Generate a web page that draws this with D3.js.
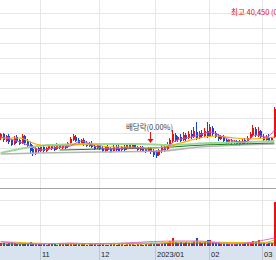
<!DOCTYPE html>
<html>
<head>
<meta charset="utf-8">
<script src="https://cdn.jsdelivr.net/npm/d3@7"></script>
<style>
html,body{margin:0;padding:0;background:#fff;overflow:hidden}
svg{display:block}
</style>
</head>
<body>
<svg id="chart" width="276" height="260"></svg>
<script>
// ===== DATA =====
const dates = [
"2022-10-11","2022-10-12","2022-10-13","2022-10-14","2022-10-17","2022-10-18","2022-10-19","2022-10-20","2022-10-21","2022-10-24","2022-10-25","2022-10-26","2022-10-27","2022-10-28","2022-10-31",
"2022-11-01","2022-11-02","2022-11-03","2022-11-04","2022-11-07","2022-11-08","2022-11-09","2022-11-10","2022-11-11","2022-11-14","2022-11-15","2022-11-16","2022-11-17","2022-11-18","2022-11-21","2022-11-22","2022-11-23","2022-11-24","2022-11-25","2022-11-28","2022-11-29","2022-11-30",
"2022-12-01","2022-12-02","2022-12-05","2022-12-06","2022-12-07","2022-12-08","2022-12-09","2022-12-12","2022-12-13","2022-12-14","2022-12-15","2022-12-16","2022-12-19","2022-12-20","2022-12-21","2022-12-22","2022-12-23","2022-12-26","2022-12-27","2022-12-28","2022-12-29",
"2023-01-02","2023-01-03","2023-01-04","2023-01-05","2023-01-06","2023-01-09","2023-01-10","2023-01-11","2023-01-12","2023-01-13","2023-01-16","2023-01-17","2023-01-18","2023-01-19","2023-01-20","2023-01-25","2023-01-26","2023-01-27","2023-01-30","2023-01-31",
"2023-02-01","2023-02-02","2023-02-03","2023-02-06","2023-02-07","2023-02-08","2023-02-09","2023-02-10","2023-02-13","2023-02-14","2023-02-15","2023-02-16","2023-02-17","2023-02-20","2023-02-21","2023-02-22","2023-02-23","2023-02-24","2023-02-27","2023-02-28",
"2023-03-02","2023-03-03","2023-03-06","2023-03-07","2023-03-08"
]

const openP = [
39200,39360,39080,39280,39120,38960,39240,39120,39000,39280,39080,38960,38760,38600,38800,
38680,38840,38680,38760,38920,38840,38760,38920,38800,38920,38840,39000,39120,39240,39120,38960,39120,39000,38880,39000,38880,38800,
38920,38800,38680,38840,38760,38680,38840,38800,38720,38840,38760,38920,38800,38920,38840,38720,38840,38760,38680,38800,38680,
38640,38520,38680,38840,38760,38920,39080,39320,39120,39240,39120,39320,39200,39360,39240,39440,39200,39400,39280,39480,
39280,39600,39400,39280,39160,39240,39120,39000,39120,39000,39080,39040,38960,39120,39000,39200,39320,39560,39280,39480,
39240,39120,39240,39080,39240
]
const highP = [
39400,39400,39320,39360,39160,39280,39320,39160,39360,39320,39160,39040,38920,38880,38840,
38880,38880,38840,38960,38960,38920,39000,38960,38960,38960,39040,39240,39360,39320,39200,39160,39200,39080,39040,39080,38960,38960,
39000,38880,38880,38920,38840,38920,39000,38960,38880,38920,38960,38960,38960,38960,38880,38880,38880,38800,38840,38840,38760,
38720,38760,38920,38920,39040,39200,39520,39400,39280,39360,39440,39400,39480,39520,39640,39840,39480,39520,39600,39840,
39760,39680,39480,39360,39320,39320,39200,39160,39160,39120,39120,39120,39160,39200,39280,39440,39720,39640,39640,39520,
39360,39320,39360,39240,40450
]
const lowP = [
39120,39040,39040,38960,38880,38920,39000,38920,38960,38920,38800,38600,38480,38520,38600,
38640,38600,38640,38720,38720,38680,38720,38760,38760,38760,38800,38960,39080,39040,38920,38920,38880,38840,38840,38800,38720,38760,
38720,38640,38640,38680,38600,38640,38640,38640,38680,38680,38720,38760,38760,38760,38680,38680,38640,38600,38640,38560,38440,
38400,38480,38600,38640,38720,38880,39000,39040,39040,39040,39080,39080,39160,39160,39200,39120,39160,39200,39240,39200,
39240,39280,39200,39080,39120,39040,38960,38960,38920,38960,38920,38880,38920,38960,38960,39160,39240,39240,39240,39160,
39080,39080,39040,39040,39200
]
const closeP = [
39360,39120,39280,39040,38920,39200,39080,38960,39280,39000,38880,38680,38600,38800,38680,
38840,38680,38800,38920,38760,38720,38920,38800,38920,38800,39000,39160,39280,39080,38960,39120,38920,38880,39000,38840,38760,38920,
38760,38680,38840,38720,38640,38840,38720,38680,38840,38720,38920,38800,38920,38800,38720,38840,38680,38640,38800,38640,38520,
38480,38720,38840,38720,38960,39120,39360,39120,39240,39080,39320,39160,39360,39240,39480,39200,39400,39280,39480,39240,
39640,39360,39240,39160,39280,39080,39000,39120,39000,39080,38960,38920,39080,39000,39200,39360,39600,39320,39480,39240,
39120,39240,39080,39200,40360
]
// thousand shares
const volume = [
300,280,260,290,310,270,250,260,300,280,270,320,300,260,240,
230,250,220,240,260,230,220,250,230,240,260,300,280,260,240,250,230,220,240,250,230,220,
230,240,220,210,250,230,220,240,230,220,240,230,250,220,230,240,220,250,260,300,270,
280,260,300,280,320,360,480,340,300,320,290,310,300,280,350,500,320,300,340,400,
420,330,300,280,260,250,240,260,250,230,240,250,260,280,300,340,380,320,400,300,
280,260,270,300,1920
]

// moving averages: [day index, value]
const ma5 = [[0,39240],[5,39120],[11,38880],[15,38720],[20,38800],[26,38880],[30,39080],[35,38880],[41,38760],[46,38800],[52,38800],[58,38640],[61,38760],[65,39080],[71,39240],[74,39320],[78,39440],[82,39280],[87,39080],[91,39040],[95,39320],[99,39240],[102,39520]]
const ma20 = [[0,39200],[7,39200],[13,38960],[18,38880],[26,38920],[33,38960],[41,38840],[48,38840],[56,38800],[61,38840],[67,39000],[74,39200],[80,39280],[87,39200],[93,39160],[99,39200],[102,39240]]
const ma60 = [[0,38600],[9,38800],[18,38920],[37,38960],[52,38960],[63,38920],[78,39000],[93,39040],[102,39080]]
const ma120 = [[22,38720],[37,38760],[56,38800],[63,38840],[76,38920],[89,38960],[102,39000]]
const ma240 = [[0,38560],[15,38600],[37,38640],[60,38680],[74,38840],[89,38920],[102,38960]]

const volMa5 = [[0,320],[15,240],[26,280],[36,240],[64,360],[74,360],[86,240],[102,480]]
const volMa20 = [[0,340],[11,280],[30,240],[56,240],[65,320],[78,320],[97,280],[102,400]]
const volMa60 = [[0,240],[37,260],[74,280],[102,280]]

const tickDates = ["2022-11-01","2022-12-01","2023-01-02","2023-02-01","2023-03-02"]
const tickLabels = ["11","12","2023/01","02","03"]

const exDivIndex = 56
const exDivText = "배당락(0.00%)"
const highText = "최고 40,450 (0.00%)"

// ===== SETUP =====
const svg = d3.select("#chart")
const UP = "#e41414", DOWN = "#1646d6", GRID = "#e6e6e6"

const x = d3.scaleBand()
.domain(dates)
.range([-0.7, 275.7])

const bw = x.bandwidth()
const cx = i => Math.floor(x(dates[i]) + bw/2)

const y = d3.scaleLinear()
.domain([37600, 44200])
.range([178, 13])

const vy = d3.scaleLinear()
.domain([0, 2480])
.range([250, 188])

// ===== GRID =====
const grid = svg.append("g").attr("shape-rendering","crispEdges")

grid.selectAll(".hg")
.data(d3.range(37600, 44201, 600))
.enter()
.append("line")
.attr("x1",0).attr("x2",276)
.attr("y1",d=>Math.round(y(d))+0.5)
.attr("y2",d=>Math.round(y(d))+0.5)
.attr("stroke",GRID)

grid.selectAll(".vg")
.data(vy.ticks(2).filter(d=>d>0))
.enter()
.append("line")
.attr("x1",0).attr("x2",276)
.attr("y1",d=>Math.round(vy(d))+0.5)
.attr("y2",d=>Math.round(vy(d))+0.5)
.attr("stroke",GRID)

grid.selectAll(".mg")
.data(tickDates)
.enter()
.append("line")
.attr("x1",d=>Math.round(x(d))+0.5)
.attr("x2",d=>Math.round(x(d))+0.5)
.attr("y1",0).attr("y2",260)
.attr("stroke",GRID)

// pane separator
svg.append("line")
.attr("x1",0).attr("x2",276)
.attr("y1",188.5).attr("y2",188.5)
.attr("stroke","#a4a4a4")

// ===== CANDLES =====
const idx = d3.range(dates.length)
const isUp = i => closeP[i] >= openP[i]

const candles = svg.append("g").attr("shape-rendering","crispEdges")

candles.selectAll(".wick")
.data(idx)
.enter()
.append("line")
.attr("x1",i=>cx(i)+0.5)
.attr("x2",i=>cx(i)+0.5)
.attr("y1",i=>y(highP[i]))
.attr("y2",i=>y(lowP[i]))
.attr("stroke",i=>isUp(i)?UP:DOWN)

candles.selectAll(".body")
.data(idx)
.enter()
.append("rect")
.attr("x",i=>cx(i))
.attr("width",2)
.attr("y",i=>y(Math.max(openP[i],closeP[i])))
.attr("height",i=>Math.max(1, Math.abs(y(openP[i])-y(closeP[i]))))
.attr("fill",i=>isUp(i)?UP:DOWN)

// ===== MOVING AVERAGES =====
const maLine = d3.line()
.x(d=>x(dates[d[0]])+bw/2)
.y(d=>y(d[1]))
.curve(d3.curveMonotoneX)

const mas = [
  {data:ma240, color:"#b4b4b4", w:1.6},
  {data:ma60, color:"#9ad89a", w:1.8},
  {data:ma120, color:"#1a7f1a", w:1.1},
  {data:ma20, color:"#f2a900", w:1.2},
  {data:ma5, color:"#d84fc0", w:1}
]

svg.append("g")
.selectAll("path")
.data(mas)
.enter()
.append("path")
.attr("d",d=>maLine(d.data))
.attr("fill","none")
.attr("stroke",d=>d.color)
.attr("stroke-width",d=>d.w)

// ===== VOLUME =====
svg.append("g")
.attr("shape-rendering","crispEdges")
.selectAll("rect")
.data(idx)
.enter()
.append("rect")
.attr("x",i=>cx(i))
.attr("width",2)
.attr("y",i=>vy(volume[i]))
.attr("height",i=>vy(0)-vy(volume[i]))
.attr("fill",i=>isUp(i)?UP:DOWN)

const volLine = d3.line()
.x(d=>x(dates[d[0]])+bw/2)
.y(d=>vy(d[1]))
.curve(d3.curveMonotoneX)

svg.append("g")
.selectAll("path")
.data([
  {data:volMa60, color:"#3a9a3a"},
  {data:volMa20, color:"#f0b400"},
  {data:volMa5, color:"#e070c8"}
])
.enter()
.append("path")
.attr("d",d=>volLine(d.data))
.attr("fill","none")
.attr("stroke",d=>d.color)
.attr("stroke-width",1)

// ===== DATE AXIS BAND =====
svg.append("rect")
.attr("x",0).attr("y",246)
.attr("width",276).attr("height",14)
.attr("fill","#d8e3ef")

svg.append("g")
.attr("shape-rendering","crispEdges")
.selectAll("line")
.data(tickDates)
.enter()
.append("line")
.attr("x1",d=>Math.round(x(d))+0.5)
.attr("x2",d=>Math.round(x(d))+0.5)
.attr("y1",246).attr("y2",260)
.attr("stroke","#b9c6d4")

svg.append("g")
.selectAll("text")
.data(tickDates)
.enter()
.append("text")
.attr("x",d=>Math.round(x(d))+2)
.attr("y",257)
.attr("font-family","Liberation Sans, Arial, sans-serif")
.attr("font-size",7.5)
.attr("fill","#222")
.text((d,i)=>tickLabels[i])

// ===== ANNOTATIONS =====
const ax = cx(exDivIndex)+0.5
const tipY = y(highP[exDivIndex]) - 4

svg.append("line")
.attr("x1",ax).attr("x2",ax)
.attr("y1",tipY-11).attr("y2",tipY-3)
.attr("stroke",UP)
.attr("stroke-width",1)

svg.append("path")
.attr("d",`M${ax-3},${tipY-4}L${ax+3},${tipY-4}L${ax},${tipY}Z`)
.attr("fill",UP)

svg.append("text")
.attr("x",ax-1)
.attr("y",tipY-13)
.attr("text-anchor","middle")
.attr("font-family","Noto Sans CJK KR, sans-serif")
.attr("font-size",8)
.attr("fill","#444")
.attr("textLength",47)
.attr("lengthAdjust","spacingAndGlyphs")
.text(exDivText)

svg.append("text")
.attr("x",231)
.attr("y",15)
.attr("font-family","Noto Sans CJK KR, sans-serif")
.attr("font-size",7.5)
.attr("fill","#e0141c")
.text(highText)
</script>
</body>
</html>
